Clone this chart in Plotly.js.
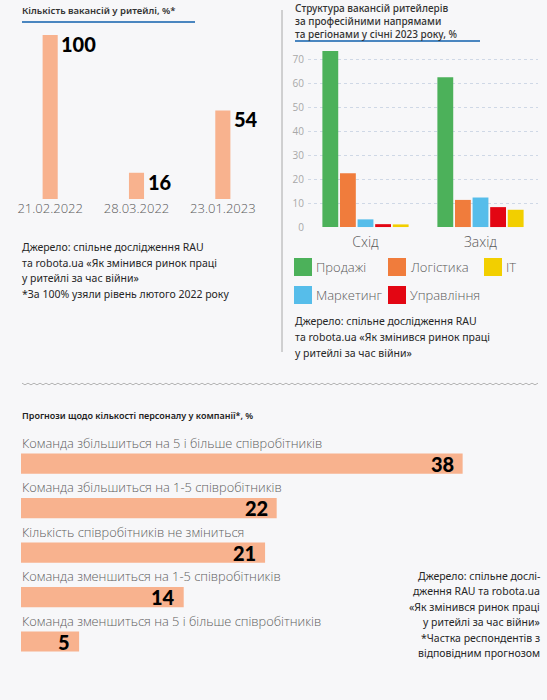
<!DOCTYPE html>
<html>
<head>
<meta charset="utf-8">
<script src="https://cdn.plot.ly/plotly-3.0.1.min.js"></script>
<style>
  html, body { margin: 0; padding: 0; background: #f7f7f9; }
  #chart { width: 547px; height: 700px; }
</style>
</head>
<body>
<div id="chart"></div>
<script>
// --- Vacancies in retail, % of February 2022 level ---
const vacancyDates = ['21.02.2022', '28.03.2022', '23.01.2023'];
const vacancyValues = [100, 16, 54];

// --- Vacancy structure by direction and region, January 2023, % ---
const regions = ['Схід', 'Захід'];
const directions = ['Продажі', 'Логістика', 'Маркетинг', 'Управління', 'IT'];
const salesShare = [73.3, 62.4];
const logisticsShare = [22.4, 11.3];
const marketingShare = [3.2, 12.3];
const managementShare = [1.2, 8.3];
const itShare = [1.1, 7.2];
const directionShares = [salesShare, logisticsShare, marketingShare, managementShare, itShare];
const directionColors = ['#4cb15a', '#f07c3c', '#56bdea', '#e30613', '#f2cf00'];
const legendOrder = ['Продажі', 'Логістика', 'IT', 'Маркетинг', 'Управління'];

// --- Staff headcount forecasts, % of respondents ---
const forecastLabels = [
  'Команда збільшиться на 5 і більше співробітників',
  'Команда збільшиться на 1-5 співробітників',
  'Кількість співробітників не зміниться',
  'Команда зменшиться на 1-5 співробітників',
  'Команда зменшиться на 5 і більше співробітників'
];
const forecastValues = [38, 22, 21, 14, 5];

// --- Text blocks ---
const leftTitle = 'Кількість вакансій у ритейлі, %*';
const rightTitle = ['Структура вакансій ритейлерів', 'за професійними напрямами', 'та регіонами у січні 2023 року, %'];
const bottomTitle = 'Прогнози щодо кількості персоналу у компанії*, %';
const leftSource = ['Джерело: спільне дослідження RAU', 'та robota.ua «Як змінився ринок праці', 'у ритейлі за час війни»', '*За 100% узяли рівень лютого 2022 року'];
const rightSource = ['Джерело: спільне дослідження RAU', 'та robota.ua «Як змінився ринок праці', 'у ритейлі за час війни»'];
const bottomSource = ['Джерело: спільне дослі-', 'дження RAU та robota.ua', '«Як змінився ринок праці', 'у ритейлі за час війни»', '*Частка респондентів з', 'відповідним прогнозом'];

const W = 547, H = 700;
const X = px => px / W;
const Y = py => 1 - py / H;

const salmon = '#f8b28e';
const lightFont = 'Open Sans, Noto Sans, sans-serif';
const textFont = 'Noto Sans, Open Sans, sans-serif';
const heavyFont = 'Lato, Inter, sans-serif';
const accentBlue = '#4a86c0';

const traces = [];

traces.push({
  type: 'bar', x: vacancyDates, y: vacancyValues, xaxis: 'x', yaxis: 'y',
  width: 0.175, marker: { color: salmon }, hoverinfo: 'skip', showlegend: false
});

directions.forEach((name, i) => {
  traces.push({
    type: 'bar', name: name, x: regions, y: directionShares[i], xaxis: 'x2', yaxis: 'y2',
    marker: { color: directionColors[i] }, hoverinfo: 'skip', showlegend: false
  });
});

traces.push({
  type: 'bar', orientation: 'h', y: forecastLabels, x: forecastValues, xaxis: 'x3', yaxis: 'y3',
  width: 0.455, marker: { color: salmon }, hoverinfo: 'skip', showlegend: false
});

const annotations = [];
const shapes = [];

function paperText(text, px, py, opts) {
  annotations.push(Object.assign({
    xref: 'paper', yref: 'paper', x: X(px), y: Y(py), text: text, showarrow: false,
    xanchor: 'left', yanchor: 'middle', align: 'left', borderpad: 0,
    font: { family: textFont, size: 11, color: '#262626' }
  }, opts || {}));
}

// Titles
paperText(leftTitle, 21, 11, { font: { family: textFont, size: 9.5, color: '#333', weight: 600 } });
paperText(rightTitle.join('<br>'), 294, 0, { yanchor: 'top', font: { family: textFont, size: 10, color: '#333', weight: 500 } });
paperText(bottomTitle, 21, 415, { font: { family: textFont, size: 9, color: '#222', weight: 600 } });

// Title underlines
shapes.push({ type: 'line', xref: 'paper', yref: 'paper', x0: X(22), x1: X(195), y0: Y(22), y1: Y(22), line: { color: accentBlue, width: 2 } });
shapes.push({ type: 'line', xref: 'paper', yref: 'paper', x0: X(295), x1: X(480), y0: Y(41), y1: Y(41), line: { color: accentBlue, width: 2 } });

// Vertical divider between the two upper charts
shapes.push({ type: 'line', xref: 'paper', yref: 'paper', x0: X(282), x1: X(282), y0: Y(10), y1: Y(352), line: { color: '#a8a8a8', width: 1 } });

// Wavy separator
let wave = '';
for (let px = 22, k = 0; px <= 540; px += 3, k++) {
  const py = k % 2 === 0 ? 383.2 : 384.8;
  wave += (k === 0 ? 'M' : 'L') + X(px).toFixed(5) + ',' + Y(py).toFixed(5);
}
shapes.push({ type: 'path', xref: 'paper', yref: 'paper', path: wave, line: { color: '#b5b5b5', width: 1 } });

// Value labels for the vacancies chart
vacancyDates.forEach((d, i) => {
  annotations.push({
    xref: 'x', yref: 'y', x: d, y: vacancyValues[i], text: String(vacancyValues[i]), showarrow: false,
    xanchor: 'left', yanchor: 'middle', xshift: 9, yshift: -9,
    font: { family: heavyFont, size: 20, color: '#000', weight: 900 }
  });
});

// Sources
leftSource.forEach((t, i) => paperText(t, 21, 247 + i * 15.7, { font: { family: textFont, size: 10.5, color: '#262626' } }));
rightSource.forEach((t, i) => paperText(t, 294, 321 + i * 16, { font: { family: textFont, size: 10.5, color: '#262626' } }));
bottomSource.forEach((t, i) => paperText(t, 541, 576 + i * 15.4, { xanchor: 'right', align: 'right', font: { family: textFont, size: 10.5, color: '#262626' } }));

// Custom legend for the direction chart
const legendCols = [294, 388, 484];
const legendRows = [267, 295];
legendOrder.forEach((name, i) => {
  const col = i % 3, row = Math.floor(i / 3);
  const color = directionColors[directions.indexOf(name)];
  const cx = legendCols[col], cy = legendRows[row];
  shapes.push({
    type: 'rect', xref: 'paper', yref: 'paper',
    x0: X(cx), x1: X(cx + 18), y0: Y(cy - 9), y1: Y(cy + 9),
    fillcolor: color, line: { width: 0 }
  });
  paperText(name, cx + 21, cy, { font: { family: lightFont, size: 13, color: '#5a5a5a', weight: 300 } });
});

// Forecast labels and values
forecastLabels.forEach((label, i) => {
  annotations.push({
    xref: 'x3', yref: 'y3', x: 0, y: label, text: label, showarrow: false,
    xanchor: 'left', yanchor: 'middle', yshift: 21, borderpad: 0,
    font: { family: lightFont, size: 12.8, color: '#5f5f5f', weight: 300 }
  });
  annotations.push({
    xref: 'x3', yref: 'y3', x: forecastValues[i], y: label, text: String(forecastValues[i]), showarrow: false,
    xanchor: 'right', yanchor: 'middle', xshift: -7,
    font: { family: heavyFont, size: 20, color: '#000', weight: 900 }
  });
});

const layout = {
  width: W, height: H,
  margin: { l: 0, r: 0, t: 0, b: 0 },
  paper_bgcolor: '#f7f7f9', plot_bgcolor: 'rgba(0,0,0,0)',
  barmode: 'group', bargap: 0.235, bargroupgap: 0.1,
  showlegend: false,
  xaxis: {
    domain: [X(7), X(266)], anchor: 'y', showgrid: false, zeroline: false, showline: false, ticks: '',
    tickfont: { family: lightFont, size: 13, color: '#5a5a5a', weight: 300 }, fixedrange: true
  },
  yaxis: { domain: [Y(199), Y(35)], range: [0, 100], visible: false, fixedrange: true },
  xaxis2: {
    domain: [X(308), X(538)], anchor: 'y2', showgrid: false, zeroline: false, showline: false, ticks: '',
    ticklabelstandoff: 4,
    tickfont: { family: lightFont, size: 14, color: '#5a5a5a', weight: 300 }, fixedrange: true
  },
  yaxis2: {
    domain: [Y(228), Y(47)], range: [-0.4, 75], anchor: 'x2', dtick: 10, tick0: 0,
    showgrid: true, gridcolor: '#cfd8e6', griddash: 'dot', gridwidth: 1,
    zeroline: false, showline: false, ticks: '', ticklabelstandoff: 3,
    tickfont: { family: lightFont, size: 10, color: '#a8a8a8' }, fixedrange: true
  },
  xaxis3: { domain: [X(21), X(544)], range: [0, 45], anchor: 'y3', visible: false, fixedrange: true },
  yaxis3: { domain: [Y(672.5), Y(441.5)], anchor: 'x3', autorange: 'reversed', visible: false, fixedrange: true },
  annotations: annotations,
  shapes: shapes
};

Plotly.newPlot('chart', traces, layout, { displayModeBar: false, staticPlot: true });
</script>
</body>
</html>
